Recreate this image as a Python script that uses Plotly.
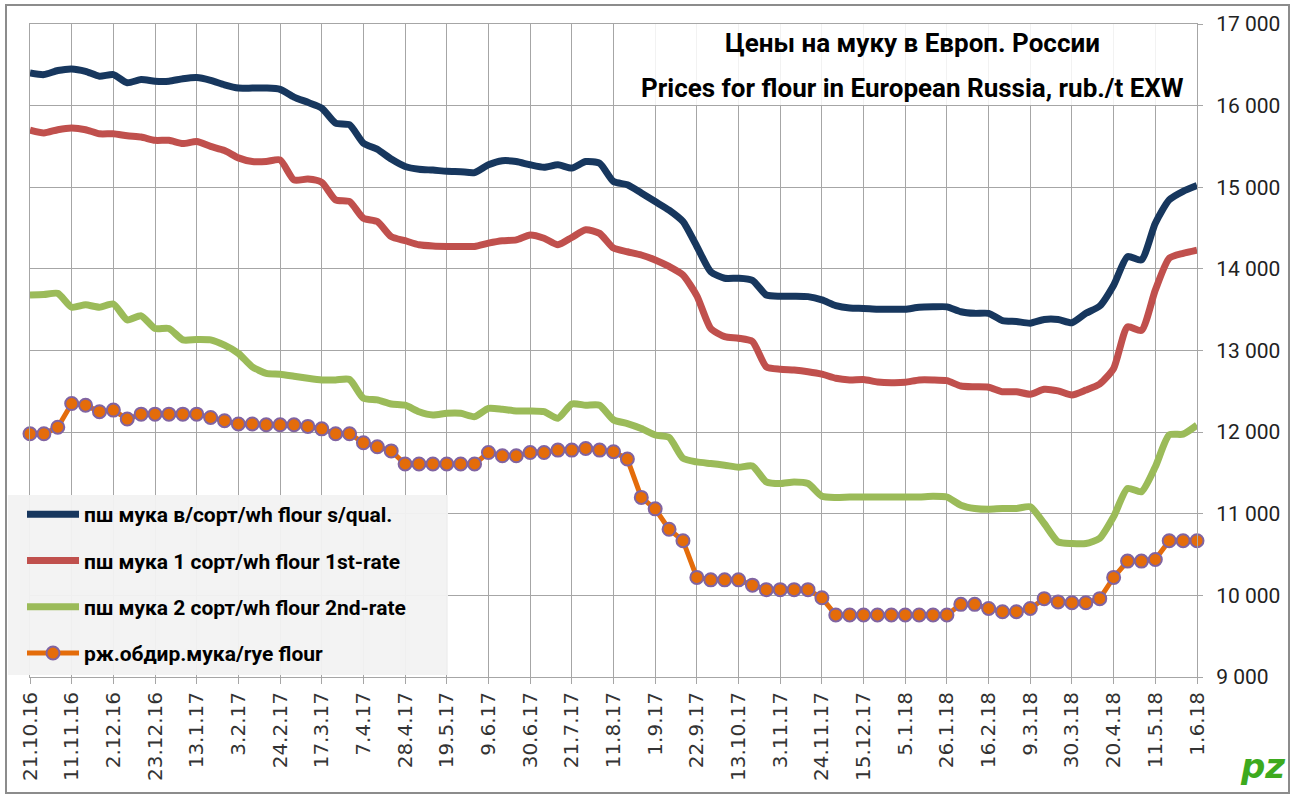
import plotly.graph_objects as go

dates = ["21.10.16","28.10.16","4.11.16","11.11.16","18.11.16","25.11.16","2.12.16","9.12.16","16.12.16","23.12.16",
         "30.12.16","6.1.17","13.1.17","20.1.17","27.1.17","3.2.17","10.2.17","17.2.17","24.2.17","3.3.17",
         "10.3.17","17.3.17","24.3.17","31.3.17","7.4.17","14.4.17","21.4.17","28.4.17","5.5.17","12.5.17",
         "19.5.17","26.5.17","2.6.17","9.6.17","16.6.17","23.6.17","30.6.17","7.7.17","14.7.17","21.7.17",
         "28.7.17","4.8.17","11.8.17","18.8.17","25.8.17","1.9.17","8.9.17","15.9.17","22.9.17","29.9.17",
         "6.10.17","13.10.17","20.10.17","27.10.17","3.11.17","10.11.17","17.11.17","24.11.17","1.12.17","8.12.17",
         "15.12.17","22.12.17","29.12.17","5.1.18","12.1.18","19.1.18","26.1.18","2.2.18","9.2.18","16.2.18",
         "23.2.18","2.3.18","9.3.18","16.3.18","23.3.18","30.3.18","6.4.18","13.4.18","20.4.18","27.4.18",
         "4.5.18","11.5.18","18.5.18","25.5.18","1.6.18"]

tick_labels = dates[::3]

flour_top = [16400,16380,16430,16450,16420,16360,16380,16280,16320,16300,
             16300,16330,16345,16310,16255,16215,16215,16215,16200,16105,
             16040,15970,15785,15765,15540,15465,15345,15255,15220,15210,
             15195,15190,15180,15275,15325,15315,15275,15245,15275,15235,
             15315,15295,15070,15030,14930,14825,14720,14580,14275,13965,
             13885,13885,13860,13680,13665,13665,13660,13620,13550,13520,
             13515,13505,13505,13505,13530,13535,13535,13475,13455,13455,
             13365,13355,13335,13380,13380,13340,13455,13545,13800,14150,
             14110,14560,14845,14950,15020]

flour_1st = [15700,15665,15705,15725,15705,15655,15655,15630,15615,15575,
             15575,15535,15560,15500,15450,15360,15315,15315,15335,15090,
             15100,15060,14845,14825,14620,14580,14395,14345,14295,14280,
             14275,14275,14275,14315,14345,14355,14415,14375,14295,14385,
             14480,14435,14255,14210,14170,14110,14030,13925,13670,13270,
             13170,13150,13110,12800,12770,12760,12740,12710,12660,12640,
             12645,12615,12605,12610,12640,12640,12630,12565,12555,12550,
             12495,12495,12465,12525,12505,12455,12515,12590,12780,13290,
             13245,13740,14130,14190,14230]

flour_2nd = [13680,13685,13700,13530,13560,13530,13570,13375,13425,13270,
             13270,13130,13135,13130,13065,12965,12800,12720,12710,12685,
             12660,12640,12640,12645,12415,12395,12345,12330,12250,12210,
             12230,12230,12190,12290,12280,12260,12260,12250,12170,12345,
             12330,12330,12150,12105,12045,11965,11935,11680,11635,11615,
             11595,11570,11585,11390,11370,11390,11370,11215,11200,11205,
             11205,11205,11205,11205,11205,11215,11205,11105,11065,11055,
             11065,11065,11085,10880,10655,10635,10635,10700,10965,11310,
             11270,11575,11965,11975,12085]

rye = [11980,11980,12060,12350,12330,12250,12270,12160,12220,12220,
       12220,12220,12220,12180,12140,12100,12100,12090,12090,12090,
       12070,12040,11980,11980,11870,11820,11770,11610,11610,11610,
       11610,11610,11610,11750,11710,11710,11750,11750,11780,11780,
       11800,11780,11760,11670,11200,11060,10810,10670,10220,10190,
       10190,10190,10125,10070,10070,10070,10070,9970,9760,9760,
       9760,9760,9760,9760,9760,9760,9760,9890,9890,9840,
       9800,9800,9840,9960,9920,9910,9910,9960,10220,10420,
       10420,10440,10670,10670,10670]

y_ticks = [9000,10000,11000,12000,13000,14000,15000,16000,17000]
y_tick_labels = ["9 000","10 000","11 000","12 000","13 000","14 000","15 000","16 000","17 000"]

names = ["пш мука в/сорт/wh flour s/qual.",
         "пш мука 1 сорт/wh flour 1st-rate",
         "пш мука 2 сорт/wh flour 2nd-rate",
         "рж.обдир.мука/rye flour"]

FONT = "Roboto, Liberation Sans, sans-serif"

fig = go.Figure()
for i, (vals, col) in enumerate([(flour_top, "#17375E"), (flour_1st, "#C0504D"), (flour_2nd, "#9BBB59")]):
    fig.add_trace(go.Scatter(x=dates, y=vals, mode="lines", name=names[i], legendgroup=f"g{i}",
                             line=dict(color=col, width=7, shape="spline", smoothing=0.6)))
fig.add_trace(go.Scatter(x=dates, y=rye, mode="lines+markers", name=names[3], legendgroup="g3",
                         line=dict(color="#E46C0A", width=5),
                         marker=dict(size=13, color="#E46C0A", line=dict(color="#8064A2", width=2)),
                         cliponaxis=False))

L, R, T, B = 30, 107, 24, 119
W, H = 1304, 796
pw, ph = W - L - R, H - T - B

def px(x):
    return (x - L) / pw

def py(y):
    return (H - B - y) / ph

shapes = [
    dict(type="rect", xref="paper", yref="paper", x0=px(625), x1=1.0, y0=py(105), y1=1.0,
         fillcolor="rgba(255,255,255,0.85)", line=dict(width=0), layer="above"),
    dict(type="rect", xref="paper", yref="paper", x0=px(8), x1=px(448), y0=py(675), y1=py(495),
         fillcolor="rgba(242,242,242,0.95)", line=dict(width=0), layer="above"),
    dict(type="rect", xref="paper", yref="paper", x0=px(6), x1=px(1289), y0=py(793), y1=py(5),
         fillcolor="rgba(0,0,0,0)", line=dict(color="#8C8C8C", width=2), layer="above"),
]

annotations = [
    dict(text="<b>Цены на муку в Европ. России</b>", x=px(912), y=py(43), xref="paper", yref="paper",
         showarrow=False, xanchor="center", yanchor="middle", font=dict(family=FONT, size=26, color="#000")),
    dict(text="<b>Prices for flour in European Russia, rub./t EXW</b>", x=px(912), y=py(88), xref="paper", yref="paper",
         showarrow=False, xanchor="center", yanchor="middle", font=dict(family=FONT, size=26, color="#000")),
    dict(text="<b><i>pz</i></b>", x=px(1262), y=py(766), xref="paper", yref="paper",
         showarrow=False, xanchor="center", yanchor="middle", font=dict(family="DejaVu Sans", size=34, color="#3DAA1E")),
]

fig.update_layout(
    width=W, height=H,
    margin=dict(l=L, r=R, t=T, b=B, autoexpand=False),
    paper_bgcolor="white", plot_bgcolor="white",
    showlegend=True,
    legend=dict(x=px(22), y=py(494), xanchor="left", yanchor="top", bgcolor="rgba(0,0,0,0)",
                font=dict(family=FONT, size=21, color="#000", weight="bold"), itemwidth=52, tracegroupgap=16,
                traceorder="grouped"),
    shapes=shapes,
    annotations=annotations,
    xaxis=dict(type="category", range=[0, 84], tickmode="array", tickvals=tick_labels, ticktext=tick_labels,
               tickangle=-90, showgrid=True, gridcolor="#A6A6A6", gridwidth=1,
               ticks="outside", ticklen=6, tickcolor="#A6A6A6", automargin=False,
               showline=True, linecolor="#A6A6A6", mirror=True,
               tickfont=dict(family="DejaVu Sans", size=20, color="#333")),
    yaxis=dict(side="right", range=[9000, 17000], tickmode="array", tickvals=y_ticks, ticktext=y_tick_labels,
               showgrid=True, gridcolor="#A6A6A6", gridwidth=1, automargin=False,
               ticks="outside", ticklen=5, tickcolor="#A6A6A6", ticklabelstandoff=9,
               showline=True, linecolor="#A6A6A6", mirror=True,
               tickfont=dict(family=FONT, size=21, color="#222")),
)

fig.write_html("out.html", config={"displayModeBar": False},
               post_script="document.body.style.margin='0';document.body.style.overflow='hidden';")
